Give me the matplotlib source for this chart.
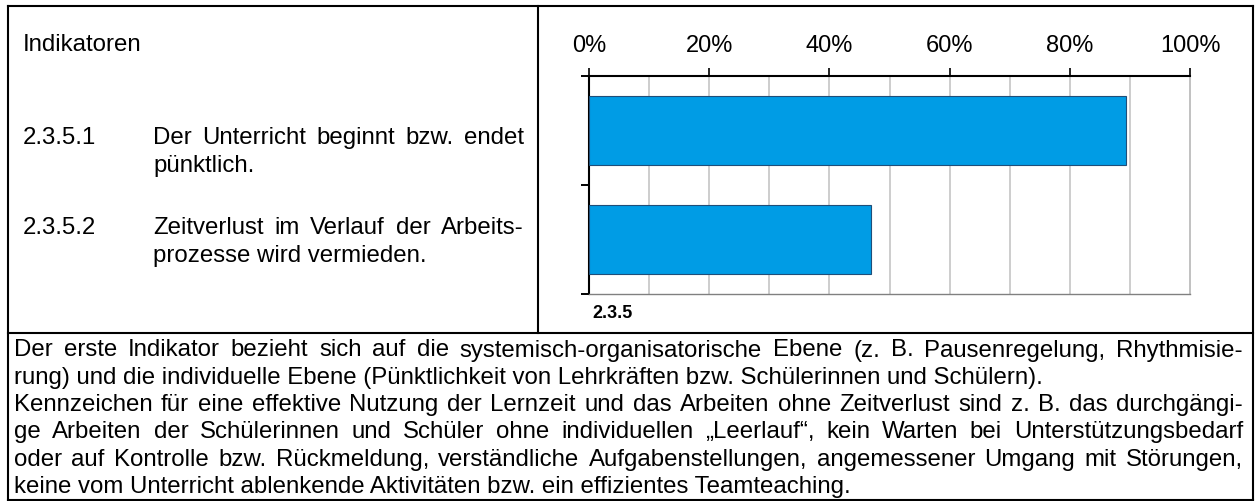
import matplotlib
matplotlib.use('Agg')
import matplotlib.pyplot as plt
from matplotlib.lines import Line2D

plt.rcParams['font.family'] = ['Liberation Sans', 'DejaVu Sans']

W, H = 1255, 501

# data
header = 'Indikatoren'
categories = ['2.3.5.1', '2.3.5.2']
category_lines = [['Der Unterricht beginnt bzw. endet', 'pünktlich.'],
                  ['Zeitverlust im Verlauf der Arbeits-', 'prozesse wird vermieden.']]
shares = [89.4, 46.9]
x_ticks = [0, 20, 40, 60, 80, 100]
x_tick_labels = ['0%', '20%', '40%', '60%', '80%', '100%']
grid_steps = [10, 20, 30, 40, 50, 60, 70, 80, 90]
group_label = '2.3.5'
notes = [
    'Der erste Indikator bezieht sich auf die systemisch-organisatorische Ebene (z. B. Pausenregelung, Rhythmisie-',
    'rung) und die individuelle Ebene (Pünktlichkeit von Lehrkräften bzw. Schülerinnen und Schülern).',
    'Kennzeichen für eine effektive Nutzung der Lernzeit und das Arbeiten ohne Zeitverlust sind z. B. das durchgängi-',
    'ge Arbeiten der Schülerinnen und Schüler ohne individuellen „Leerlauf“, kein Warten bei Unterstützungsbedarf',
    'oder auf Kontrolle bzw. Rückmeldung, verständliche Aufgabenstellungen, angemessener Umgang mit Störungen,',
    'keine vom Unterricht ablenkende Aktivitäten bzw. ein effizientes Teamteaching.',
]
notes_justified = [True, False, True, True, True, False]

TEXT_SIZE = 17.3

fig = plt.figure(figsize=(W / 100, H / 100), dpi=100)
renderer = fig.canvas.get_renderer()


def fx(px):
    return px / W


def fy(py):
    return 1 - py / H


def rule(x0, y0, x1, y1):
    fig.add_artist(Line2D([fx(x0), fx(x1)], [fy(y0), fy(y1)], color='black', lw=1.5))


def word_width(word, size):
    t = fig.text(0, 0, word, fontsize=size)
    w = t.get_window_extent(renderer).width
    t.remove()
    return w


def put_line(text, x0, x1, y, size, justify):
    if not justify:
        fig.text(fx(x0), fy(y), text, fontsize=size, va='center')
        return
    words = text.split(' ')
    widths = [word_width(w, size) for w in words]
    gap = (x1 - x0 - sum(widths)) / (len(words) - 1)
    x = x0
    for w, wd in zip(words, widths):
        fig.text(fx(x), fy(y), w, fontsize=size, va='center')
        x += wd + gap


# table frame
rule(8, 5.5, 1253, 5.5)
rule(8, 5.5, 8, 500)
rule(1253, 5.5, 1253, 500)
rule(8, 499.5, 1253, 499.5)
rule(538, 5.5, 538, 333)
rule(8, 333, 1253, 333)

# left cell
fig.text(fx(23), fy(45), header, fontsize=TEXT_SIZE, va='center')
item_rows = [138, 228]
for cat, lines, y in zip(categories, category_lines, item_rows):
    fig.text(fx(23), fy(y), cat, fontsize=TEXT_SIZE, va='center')
    put_line(lines[0], 153, 524, y, TEXT_SIZE, True)
    put_line(lines[1], 153, 524, y + 28, TEXT_SIZE, False)

# bottom notes
for i, (line, just) in enumerate(zip(notes, notes_justified)):
    put_line(line, 14, 1243, 350.5 + 27.3 * i, TEXT_SIZE, just)

# chart
ax = fig.add_axes([fx(589), fy(294), fx(1190) - fx(589), (294 - 76) / H])
ax.barh([0.5, 1.5], shares, height=0.63, color='#009CE5', edgecolor='#1F4E79',
        linewidth=0.8, zorder=3)
for g in grid_steps:
    ax.axvline(g, color='#c0c0c0', lw=1.1, zorder=1)
ax.set_xlim(0, 100)
ax.set_ylim(2, 0)
ax.xaxis.tick_top()
ax.set_xticks(x_ticks)
ax.set_xticklabels(x_tick_labels, fontsize=17)
ax.tick_params(axis='x', direction='out', length=6, width=1.2, pad=8,
               top=True, bottom=False, labeltop=True, labelbottom=False)
ax.set_yticks([0, 1, 2])
ax.set_yticklabels([])
ax.tick_params(axis='y', direction='out', length=6, width=1.4)
ax.spines['top'].set_linewidth(1.5)
ax.spines['left'].set_linewidth(1.5)
ax.spines['right'].set_color('#b0b0b0')
ax.spines['right'].set_linewidth(1.1)
ax.spines['bottom'].set_color('#808080')
ax.spines['bottom'].set_linewidth(1.0)

fig.text(fx(592), fy(313), group_label, fontsize=13, fontweight='bold', va='center')

fig.savefig('out.png', dpi=100)
